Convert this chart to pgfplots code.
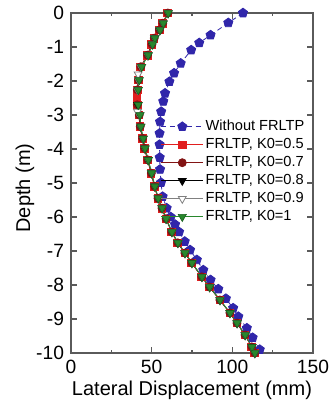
\documentclass[border=0pt]{standalone}
\usepackage{fontspec}
\setmainfont{Liberation Sans}
\usepackage{pgfplots}
\pgfplotsset{compat=1.18}
\usetikzlibrary{calc}
\definecolor{cblue}{RGB}{48,38,170}
\definecolor{cred}{RGB}{225,30,30}
\definecolor{cdred}{RGB}{130,20,20}
\definecolor{cgreen}{RGB}{40,135,45}
\definecolor{cdgreen}{RGB}{25,95,30}
\definecolor{caxis}{RGB}{90,90,90}
\begin{document}
\begin{tikzpicture}
\begin{axis}[
  scale only axis, width=121pt, height=170pt,
  xmin=0, xmax=150, ymin=-10, ymax=0,
  xtick={0,50,100,150}, minor xtick={25,75,125},
  ytick={0,-1,-2,-3,-4,-5,-6,-7,-8,-9,-10},
  tick align=inside, major tick length=3pt, minor tick length=1.6pt,
  axis line style={caxis, line width=0.6pt},
  every tick/.style={caxis, line width=0.6pt},
  /pgf/number format/assume math mode=true,
  tick label style={font=\fontsize{9.6}{11}\selectfont},
  xlabel={Lateral Displacement (mm)}, ylabel={Depth (m)},
  label style={font=\fontsize{10.7}{12}\selectfont},
  every axis x label/.style={at={(axis description cs:0.5,-0.109)}, anchor=center},
  every axis y label/.style={at={(axis description cs:-0.19,0.485)}, rotate=90, anchor=center},
  legend cell align=left,
  legend style={draw=none, fill=none, font=\fontsize{7.3}{9}\selectfont,
    at={(rel axis cs:0.345,0.705)}, anchor=north west, row sep=0pt,
    nodes={inner sep=1pt, text height=5.4pt, text depth=1.6pt}},
  legend image code/.code={\draw[mark repeat=2,mark phase=2] plot coordinates {(0pt,0pt) (10.5pt,0pt) (21pt,0pt)};},
]
\addplot[cblue, line width=0.4pt, dash pattern=on 2.5pt off 1.8pt, mark=pentagon*, mark size=2.4pt, mark options={solid, fill=cblue, draw=cblue}] coordinates {
(106.6,0) (97.5,-0.29) (86.5,-0.65) (79.5,-0.88) (74.5,-1.09) (68,-1.48) (63.9,-1.77) (61,-2.02) (58.3,-2.36) (57.2,-2.6) (55.9,-2.9) (55.2,-3.2) (54.9,-3.54) (54.9,-3.87) (55,-4.25) (55.2,-4.6) (55.8,-4.99) (56.8,-5.4) (59.3,-5.74) (61.8,-6.0) (64.5,-6.22) (67,-6.44) (70.5,-6.72) (73.8,-6.97) (78,-7.26) (82,-7.56) (86.5,-7.85) (91.3,-8.12) (96,-8.4) (100.5,-8.68) (103.7,-8.93) (109,-9.27) (112.6,-9.55) (117,-9.9)};
\addlegendentry{Without FRLTP}
\addplot[cred, line width=0.4pt, mark=square*, mark size=1.9pt, mark options={fill=cred}] coordinates {
(59.9,0) (56.8,-0.3) (54.7,-0.5) (51.4,-0.74) (50.0,-0.92) (47.2,-1.24) (43.2,-1.58) (41.6,-1.97) (41.0,-2.26) (40.8,-2.5) (41.0,-2.7) (42.1,-3.0) (42.7,-3.34) (44.2,-3.69) (45.4,-3.98) (47.4,-4.32) (49.6,-4.71) (51.7,-5.1) (53.9,-5.45) (56.3,-5.74) (58.8,-6.05) (62.4,-6.44) (66.1,-6.76) (70.5,-7.06) (74.8,-7.35) (81.0,-7.76) (85.8,-8.06) (92.2,-8.44) (98.4,-8.82) (102.8,-9.12) (107.8,-9.47) (112.0,-9.82) (113.8,-10)};
\addlegendentry{FRLTP, K0=0.5}
\addplot[cdred, line width=0.4pt, mark=*, mark size=2pt, mark options={ball color=cdred, draw=cdred}] coordinates {
(60.0,0) (56.9,-0.3) (54.8,-0.5) (51.6,-0.74) (50.2,-0.92) (47.4,-1.24) (43.3,-1.58) (41.8,-1.97) (41.1,-2.26) (41.1,-2.7) (42.3,-3.0) (42.9,-3.34) (44.4,-3.69) (45.6,-3.98) (47.6,-4.32) (49.8,-4.71) (51.8,-5.1) (53.9,-5.45) (56.4,-5.74) (58.9,-6.05) (62.5,-6.44) (66.2,-6.76) (70.6,-7.06) (74.9,-7.35) (81.1,-7.76) (85.9,-8.06) (92.3,-8.44) (98.5,-8.82) (102.9,-9.12) (107.9,-9.47) (112.1,-9.82) (113.9,-10)};
\addlegendentry{FRLTP, K0=0.7}
\addplot[black, line width=0.4pt, mark=triangle*, mark size=2.3pt, mark options={rotate=180, fill=black}] coordinates {
(60.1,0) (57.0,-0.3) (55.0,-0.5) (51.8,-0.74) (50.4,-0.92) (47.6,-1.24) (43.5,-1.58) (42.0,-1.97) (41.4,-2.26) (41.4,-2.7) (42.5,-3.0) (43.1,-3.34) (44.6,-3.69) (45.7,-3.98) (47.7,-4.32) (49.9,-4.71) (51.9,-5.1) (54.0,-5.45) (56.4,-5.74) (58.9,-6.05) (62.5,-6.44) (66.2,-6.76) (70.6,-7.06) (74.9,-7.35) (81.1,-7.76) (85.9,-8.06) (92.3,-8.44) (98.5,-8.82) (102.9,-9.12) (107.9,-9.47) (112.1,-9.82) (113.9,-10)};
\addlegendentry{FRLTP, K0=0.8}
\addplot[gray, line width=0.4pt, mark=triangle*, mark size=2.3pt, mark options={rotate=180, fill=white, draw=gray}] coordinates {
(60.2,0) (57.1,-0.3) (55.1,-0.5) (51.9,-0.74) (50.5,-0.92) (47.7,-1.24) (43.4,-1.58) (41.6,-1.8) (41.9,-1.97) (41.3,-2.26) (41.2,-2.9) (42.6,-3.0) (43.2,-3.34) (44.7,-3.69) (45.8,-3.98) (47.8,-4.32) (50.0,-4.71) (52.0,-5.1) (54.1,-5.45) (56.5,-5.74) (59.0,-6.05) (62.6,-6.44) (66.3,-6.76) (70.7,-7.06) (75.0,-7.35) (81.2,-7.76) (86.0,-8.06) (92.4,-8.44) (98.6,-8.82) (103.0,-9.12) (108.0,-9.47) (112.2,-9.82) (114.0,-10)};
\addlegendentry{FRLTP, K0=0.9}
\addplot[cgreen, line width=0.4pt, mark=triangle*, mark size=2.4pt, mark options={rotate=180, fill=cgreen, draw=cdgreen, line width=0.3pt}] coordinates {
(60.3,0) (57.2,-0.3) (55.2,-0.5) (52.0,-0.74) (50.6,-0.92) (47.9,-1.24) (43.8,-1.58) (42.3,-1.97) (41.7,-2.26) (41.7,-2.7) (42.8,-3.0) (43.3,-3.34) (44.8,-3.69) (45.9,-3.98) (47.9,-4.32) (50.0,-4.71) (52.0,-5.1) (54.1,-5.45) (56.5,-5.74) (59.0,-6.05) (62.6,-6.44) (66.3,-6.76) (70.7,-7.06) (75.0,-7.35) (81.2,-7.76) (86.0,-8.06) (92.4,-8.44) (98.6,-8.82) (103.0,-9.12) (108.0,-9.47) (112.2,-9.82) (114.0,-10)};
\addlegendentry{FRLTP, K0=1}
\end{axis}
\pgfresetboundingbox
\path ($(current axis.south west)+(-35.5pt,-25pt)$) rectangle ($(current axis.south west)+(131.5pt,176.5pt)$);
\end{tikzpicture}
\end{document}
